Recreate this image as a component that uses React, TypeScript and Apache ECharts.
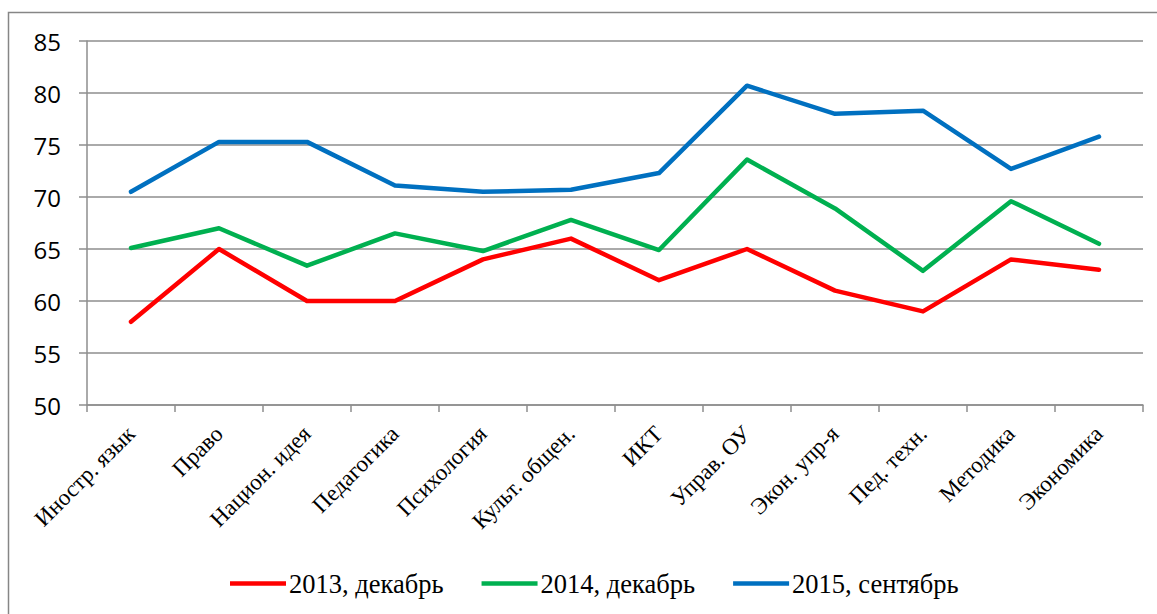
import React, { useEffect, useRef } from "react";
import * as echarts from "echarts";

const categories = [
  "Иностр. язык",
  "Право",
  "Национ. идея",
  "Педагогика",
  "Психология",
  "Культ. общен.",
  "ИКТ",
  "Управ. ОУ",
  "Экон. упр-я",
  "Пед. техн.",
  "Методика",
  "Экономика",
];

const series2013 = [58, 65, 60, 60, 64, 66, 62, 65, 61, 59, 64, 63];
const series2014 = [65.1, 67, 63.4, 66.5, 64.8, 67.8, 64.9, 73.6, 68.9, 62.9, 69.6, 65.5];
const series2015 = [70.5, 75.3, 75.3, 71.1, 70.5, 70.7, 72.3, 80.7, 78, 78.3, 72.7, 75.8];

const seriesNames = ["2013, декабрь", "2014, декабрь", "2015, сентябрь"];
const seriesColors = ["#FF0000", "#00B050", "#0070C0"];

const SERIF = "'Liberation Serif', 'Times New Roman', serif";
const SANS = "'Open Sans', 'Noto Sans', sans-serif";

export default function App() {
  const ref = useRef<HTMLDivElement>(null);

  useEffect(() => {
    if (!ref.current) return;
    const chart = echarts.init(ref.current, undefined, { renderer: "svg" });
    const data = [series2013, series2014, series2015];
    chart.setOption({
      animation: false,
      backgroundColor: "#ffffff",
      graphic: [
        {
          type: "rect",
          shape: { x: 8.5, y: 12.5, width: 1160, height: 620 },
          style: { fill: "none", stroke: "#868686", lineWidth: 1.5 },
          silent: true,
        },
      ],
      grid: { left: 87, top: 41, width: 1056, height: 364, containLabel: false },
      legend: {
        left: 225,
        top: 565,
        itemWidth: 56,
        itemHeight: 14,
        itemGap: 38,
        icon: "path://M0,5 L56,5 L56,9.5 L0,9.5 Z",
        textStyle: { fontFamily: SERIF, fontSize: 26.5, color: "#000", padding: [0, 0, 0, -2] },
        data: seriesNames,
      },
      xAxis: {
        type: "category",
        data: categories,
        boundaryGap: true,
        axisLine: { lineStyle: { color: "#8E8E8E", width: 1.5 } },
        axisTick: { show: true, length: 7, lineStyle: { color: "#8E8E8E", width: 1.5 } },
        axisLabel: {
          rotate: 45,
          interval: 0,
          margin: 25,
          fontFamily: SERIF,
          fontSize: 23,
          color: "#000",
        },
      },
      yAxis: {
        type: "value",
        min: 50,
        max: 85,
        interval: 5,
        axisLine: { show: true, lineStyle: { color: "#8E8E8E", width: 1.5 } },
        axisTick: { show: true, length: 8, lineStyle: { color: "#8E8E8E", width: 1.5 } },
        splitLine: { show: true, lineStyle: { color: "#8E8E8E", width: 1.5 } },
        axisLabel: {
          margin: 26,
          fontFamily: SANS,
          fontSize: 24,
          color: "#000",
        },
      },
      series: data.map((d, i) => ({
        name: seriesNames[i],
        type: "line",
        data: d,
        symbol: "none",
        color: seriesColors[i],
        lineStyle: { color: seriesColors[i], width: 4.5, cap: "round", join: "round" },
      })),
    });
    return () => chart.dispose();
  }, []);

  return (
    <div
      ref={ref}
      style={{ position: "fixed", left: 0, top: 0, width: 1157, height: 614 }}
    />
  );
}
